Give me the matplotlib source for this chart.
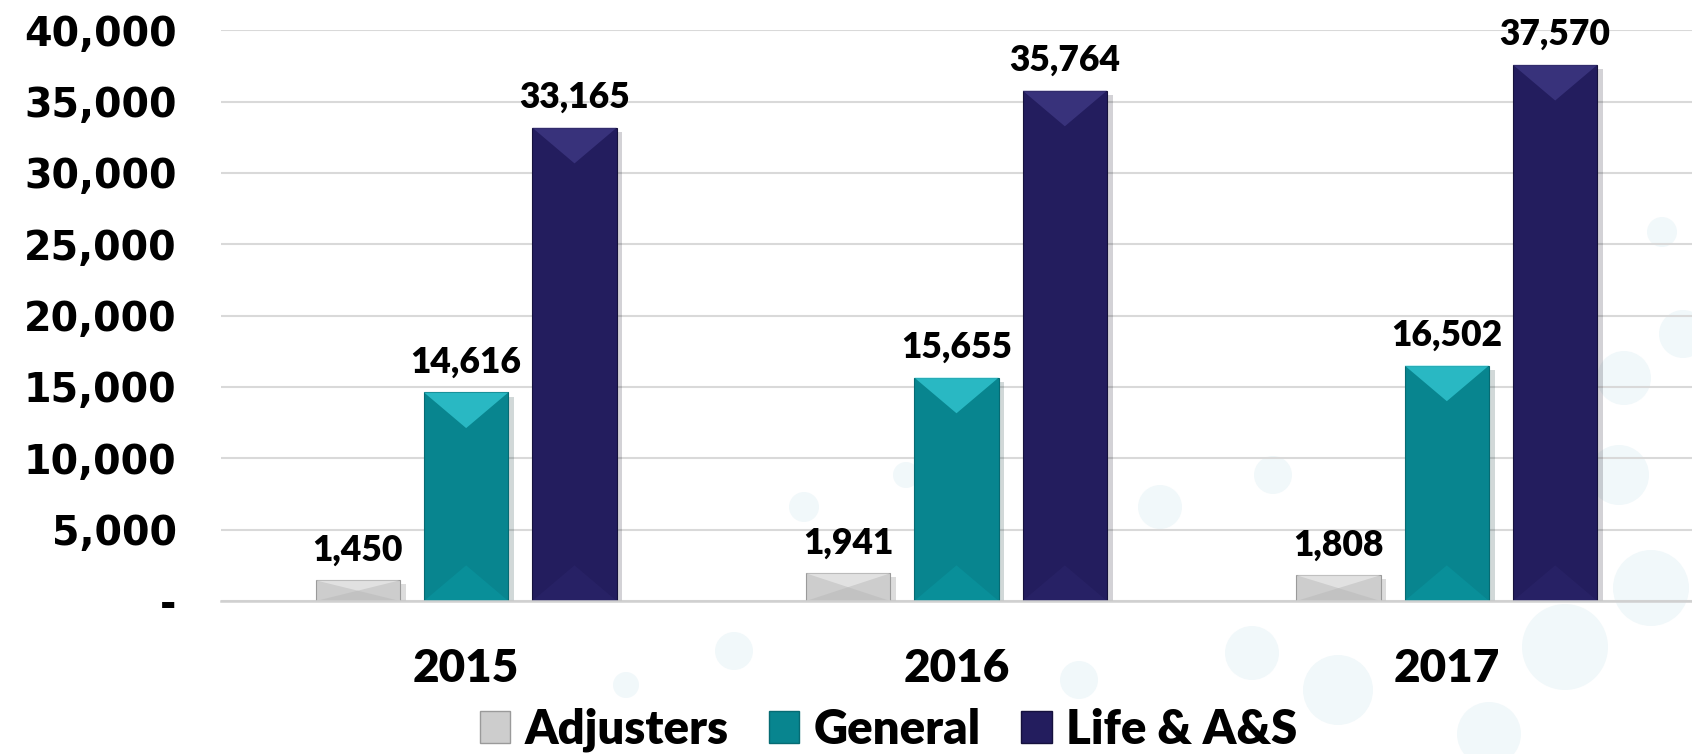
import matplotlib
matplotlib.use("Agg")
import matplotlib.pyplot as plt
import matplotlib.patheffects as pe
import numpy as np
from matplotlib.patches import Polygon, Circle, Patch
from matplotlib.ticker import FuncFormatter

years = ["2015", "2016", "2017"]
series_names = ["Adjusters", "General", "Life & A&S"]
adjusters = [1450, 1941, 1808]
general = [14616, 15655, 16502]
life = [33165, 35764, 37570]

face_colors = ["#cdcdcd", "#08858f", "#231d5e"]
top_colors = ["#f2f2f2", "#45e3ee", "#4a4494"]
bottom_colors = ["#b8b8b8", "#0a9aa4", "#2c266c"]
edge_colors = ["#9a9a9a", "#066b73", "#15113d"]

W, H = 1692, 754
fig = plt.figure(figsize=(W / 100, H / 100), dpi=100)

# faint decorative dots behind the chart (pixel coords, y from top)
bg = fig.add_axes([0, 0, 1, 1], zorder=-1)
bg.set_xlim(0, W)
bg.set_ylim(H, 0)
bg.set_aspect("equal")
bg.axis("off")
dots = [(1662, 232, 15), (1683, 334, 24), (1624, 378, 27), (1619, 475, 30),
        (1435, 491, 24), (1273, 475, 19), (1160, 507, 22), (804, 507, 15),
        (906, 475, 13), (1252, 653, 27), (1338, 690, 35), (1651, 588, 38),
        (1565, 647, 43), (734, 651, 19), (626, 685, 13), (1489, 734, 32),
        (1079, 680, 19)]
for cx, cy, r in dots:
    bg.add_patch(Circle((cx, cy), r, facecolor="#f1f8fa", edgecolor="none"))

ax = fig.add_axes([0.1306, 0.2029, 0.8694, 0.7571], zorder=1)
ax.patch.set_alpha(0)

x = np.arange(len(years))
slot = 0.221
width = 0.172
values = [adjusters, general, life]

ax.set_xlim(-0.5, 2.5)
ax.set_ylim(0, 40000)

containers = []
for i, vals in enumerate(values):
    bars = ax.bar(x + (i - 1) * slot, vals, width, color=face_colors[i],
                  edgecolor=edge_colors[i], linewidth=0.8, zorder=3,
                  label=series_names[i])
    for b in bars:
        b.set_path_effects([pe.SimplePatchShadow(offset=(4, -3), alpha=0.18),
                            pe.Normal()])
        x0, w, h = b.get_x(), b.get_width(), b.get_height()
        xc = x0 + w / 2
        d = min(2500, h * 0.5)
        ax.add_patch(Polygon([(x0, h), (x0 + w, h), (xc, h - d)],
                             closed=True, facecolor=top_colors[i],
                             edgecolor="none", alpha=0.55, zorder=4))
        ax.add_patch(Polygon([(x0, 0), (x0 + w, 0), (xc, d)],
                             closed=True, facecolor=bottom_colors[i],
                             edgecolor="none", alpha=0.5, zorder=4))
    containers.append(bars)

for bars in containers:
    ax.bar_label(bars, labels=[f"{v:,.0f}" for v in bars.datavalues],
                 padding=10, color="black", zorder=5,
                 fontfamily="Lato", fontweight="heavy", fontsize=25.5)

ax.set_yticks(np.arange(0, 40001, 5000))
ax.yaxis.set_major_formatter(FuncFormatter(lambda v, p: "-" if v == 0 else f"{v:,.0f}"))
ax.grid(axis="y", color="#d9d9d9", linewidth=1.5, zorder=1)
ax.set_axisbelow(True)
for s in ["top", "right", "left"]:
    ax.spines[s].set_visible(False)
ax.spines["bottom"].set_color("#d0d0d0")
ax.spines["bottom"].set_linewidth(1.8)
ax.spines["bottom"].set_zorder(6)

ax.set_xticks(x)
ax.set_xticklabels(years)
ax.tick_params(axis="y", length=0, pad=32, labelsize=28.5)
ax.tick_params(axis="x", length=0, pad=34, labelsize=33)
for lbl in ax.get_yticklabels():
    lbl.set_fontweight("bold")
    lbl.set_family("DejaVu Sans")
for lbl in ax.get_xticklabels():
    lbl.set_fontweight("heavy")
    lbl.set_family("Lato")

handles = [Patch(facecolor=face_colors[i], edgecolor=edge_colors[i])
           for i in range(3)]
fig.legend(handles, series_names, loc="center", bbox_to_anchor=(0.525, 0.032),
           ncol=3, frameon=False, handlelength=0.65, handleheight=0.65,
           handletextpad=0.3, columnspacing=0.85,
           prop={"family": "Lato", "weight": "heavy", "size": 34})

fig.savefig("out.png", dpi=100)
